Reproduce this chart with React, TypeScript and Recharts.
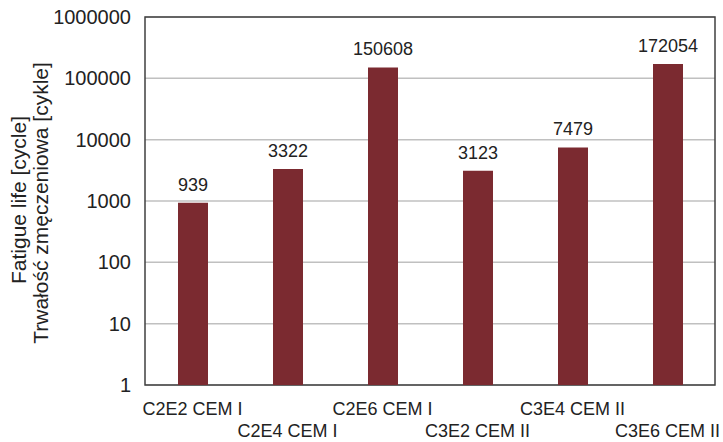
import React from "react";
import {
  BarChart,
  Bar,
  XAxis,
  YAxis,
  CartesianGrid,
  LabelList,
  ReferenceArea,
} from "recharts";

const categories = [
  "C2E2 CEM I",
  "C2E4 CEM I",
  "C2E6 CEM I",
  "C3E2 CEM II",
  "C3E4 CEM II",
  "C3E6 CEM II",
];
const fatigueLife = [939, 3322, 150608, 3123, 7479, 172054];
const yTicks = [1, 10, 100, 1000, 10000, 100000, 1000000];

const data = categories.map((name, i) => ({ name, cycles: fatigueLife[i] }));

const FONT = "Liberation Sans, Arial, sans-serif";

const StaggeredTick = (props: any) => {
  const { x, y, payload, index } = props;
  const row = index % 2 === 1 ? 1 : 0;
  return (
    <text
      x={x}
      y={y + 22 + row * 22}
      textAnchor="middle"
      fontSize={18}
      fontFamily={FONT}
      fill="#222"
    >
      {payload.value}
    </text>
  );
};

const YTitle = () => (
  <g>
    <text
      transform="translate(26, 200) rotate(-90)"
      textAnchor="middle"
      fontSize={21}
      fontFamily={FONT}
      fill="#222"
    >
      Fatigue life [cycle]
    </text>
    <text
      transform="translate(48, 203) rotate(-90)"
      textAnchor="middle"
      fontSize={21}
      fontFamily={FONT}
      fill="#222"
    >
      Trwałość zmęczeniowa [cykle]
    </text>
  </g>
);

export default function App() {
  return (
    <div style={{ position: "absolute", left: 0, top: 0, background: "#fff" }}>
      <BarChart
        width={723}
        height={442}
        data={data}
        margin={{ top: 17, right: 8, bottom: 0, left: 0 }}
      >
        <CartesianGrid vertical={false} stroke="#c0c0c0" strokeWidth={1.5} />
        <XAxis
          dataKey="name"
          axisLine={false}
          tickLine={false}
          interval={0}
          tick={<StaggeredTick />}
          height={57}
        />
        <YAxis
          scale="log"
          domain={[1, 1000000]}
          ticks={yTicks}
          allowDataOverflow
          axisLine={false}
          tickLine={false}
          width={145}
          tickMargin={8}
          tick={{ fontSize: 20, fontFamily: FONT, fill: "#222" }}
        />
        <ReferenceArea
          y1={1}
          y2={1000000}
          fill="none"
          stroke="#404040"
          strokeWidth={1.5}
          ifOverflow="visible"
        />
        <Bar dataKey="cycles" fill="#7b2a30" barSize={30} isAnimationActive={false}>
          <LabelList
            dataKey="cycles"
            position="top"
            offset={12}
            fontSize={18}
            fontFamily={FONT}
            fill="#222"
          />
        </Bar>
        <YTitle />
      </BarChart>
    </div>
  );
}
